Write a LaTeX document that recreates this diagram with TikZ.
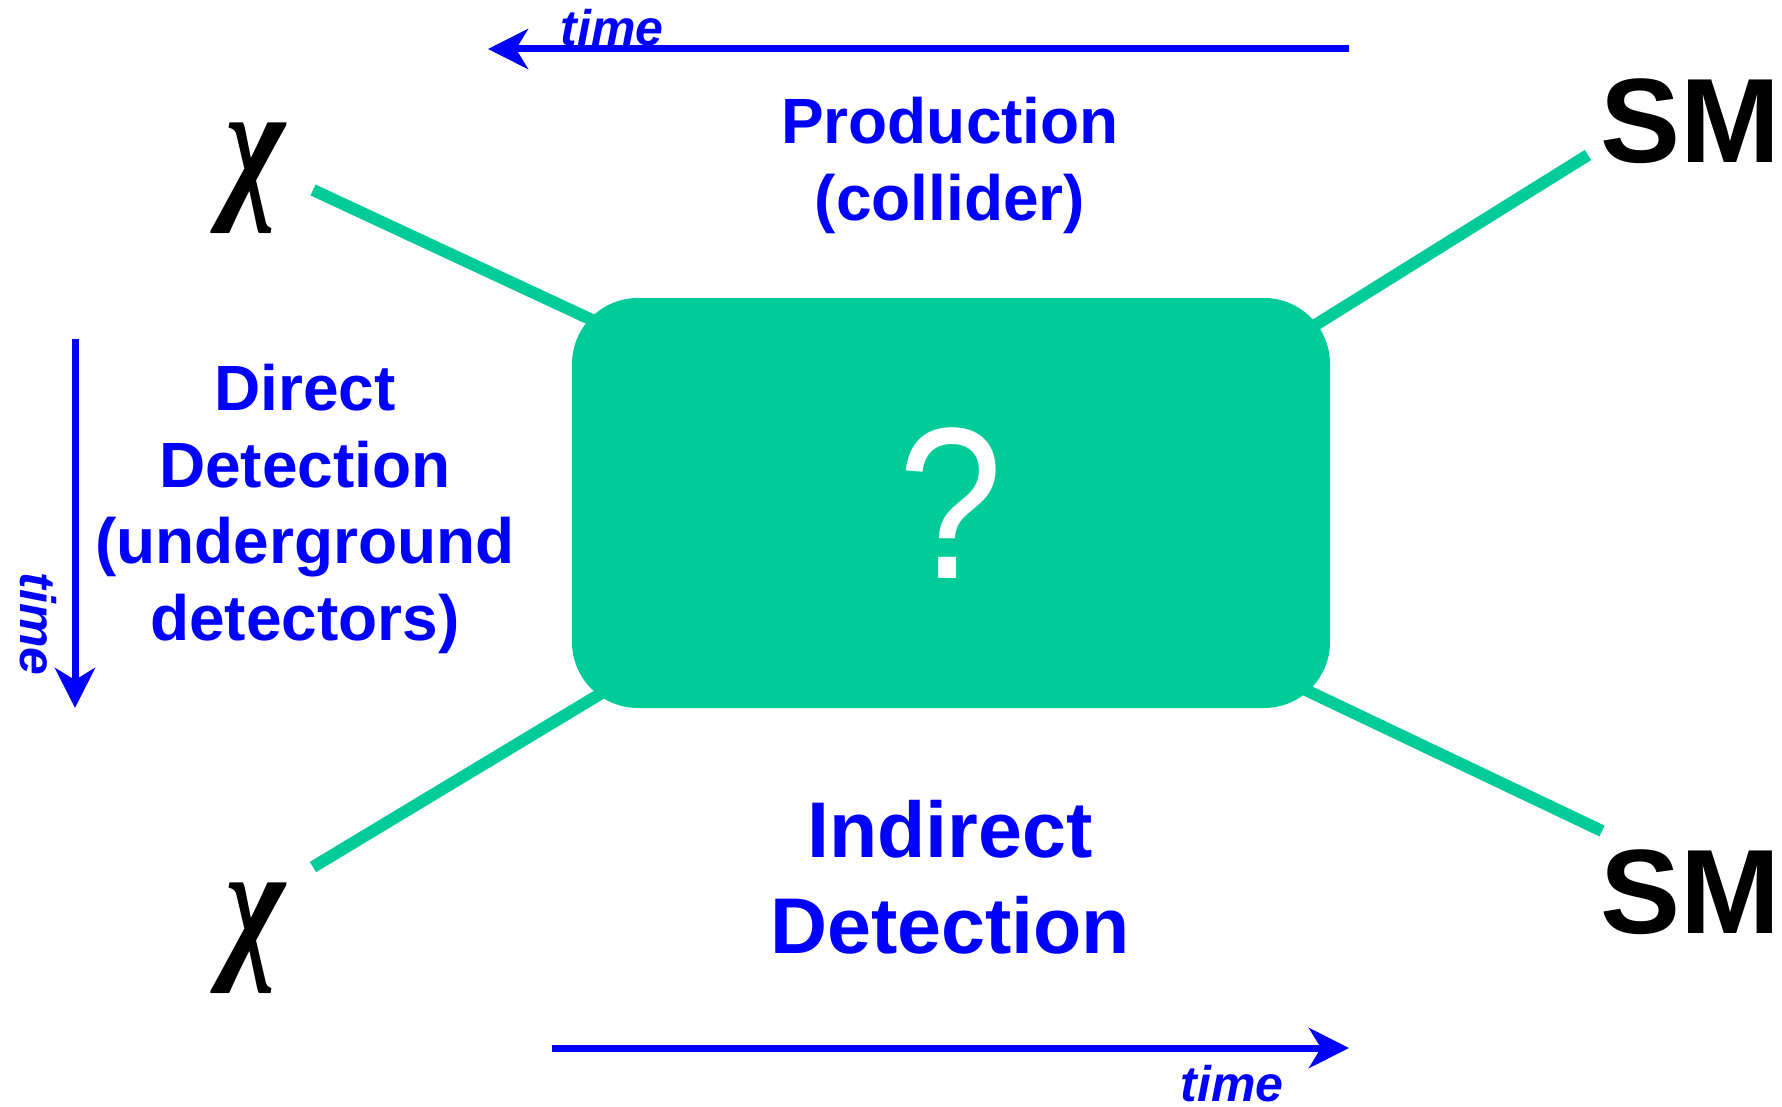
\documentclass[tikz,border=0pt]{standalone}
\usepackage{fontspec}
\setmainfont{Liberation Sans}
\newfontfamily\chifont{Liberation Serif}
\usetikzlibrary{arrows.meta}
\definecolor{dmgreen}{RGB}{0,204,153}
\definecolor{dmblue}{RGB}{0,0,255}
\newcommand{\chisym}{\scalebox{0.8}[1.03]{χ}}
\begin{document}
\begin{tikzpicture}[x=1pt,y=-1pt,
  leg/.style={line width=12pt, draw=dmgreen},
  timearrow/.style={line width=7pt, draw=dmblue, -{Stealth[length=40pt,width=40pt,inset=12pt]}},
  lbl/.style={text=dmblue, align=center, inner sep=0pt},
  timelbl/.style={text=dmblue, inner sep=0pt, font=\fontsize{50}{60}\selectfont\bfseries\itshape},
  chi/.style={inner sep=0pt, font=\fontsize{160}{180}\selectfont\chifont\bfseries\itshape},
  sm/.style={inner sep=0pt, font=\fontsize{120}{140}\selectfont\bfseries},
  box/.style={fill=dmgreen, rounded corners=66pt, minimum width=758pt, minimum height=410pt,
    text=white, font=\fontsize{216}{240}\selectfont}
]
\useasboundingbox (0,0) rectangle (1782,1107);

% legs (drawn under the box)
\coordinate (l1a) at (313,190); \coordinate (l1b) at (620,333);
\coordinate (l2a) at (1588,155); \coordinate (l2b) at (1280,347);
\coordinate (l3a) at (313,867); \coordinate (l3b) at (630,676);
\coordinate (l4a) at (1602,831); \coordinate (l4b) at (1270,673);
\draw[leg] (l1a) -- (l1b);
\draw[leg] (l2a) -- (l2b);
\draw[leg] (l3a) -- (l3b);
\draw[leg] (l4a) -- (l4b);

\node[box] (q) at (951,503) {\scalebox{0.87}[1]{?}};

\node[chi] (chi1) at (255,178) {\chisym};
\node[chi] (chi2) at (255,938) {\chisym};
\node[sm] (sm1) at (1690,121) {SM};
\node[sm] (sm2) at (1690,892) {SM};

\node[lbl, font=\fontsize{64}{77}\selectfont\bfseries] (prod) at (950,165) {Production\\(collider)};
\node[lbl, font=\fontsize{64}{76.5}\selectfont\bfseries] (direct) at (305,509) {Direct\\Detection\\(underground\\detectors)};
\node[lbl, font=\fontsize{79}{96}\selectfont\bfseries] (indirect) at (950,877) {Indirect\\Detection};

% time arrows
\coordinate (ta1) at (1349,49); \coordinate (ta2) at (488,49);
\draw[timearrow] (ta1) -- (ta2);
\coordinate (ba1) at (552,1048); \coordinate (ba2) at (1349,1048);
\draw[timearrow] (ba1) -- (ba2);
\coordinate (va1) at (75,339); \coordinate (va2) at (75,708);
\draw[timearrow] (va1) -- (va2);

\node[timelbl] (t1) at (612,28) {time};
\node[timelbl] (t2) at (1232,1084) {time};
\node[timelbl, rotate=-90] (t3) at (38,624) {time};
\end{tikzpicture}
\end{document}
